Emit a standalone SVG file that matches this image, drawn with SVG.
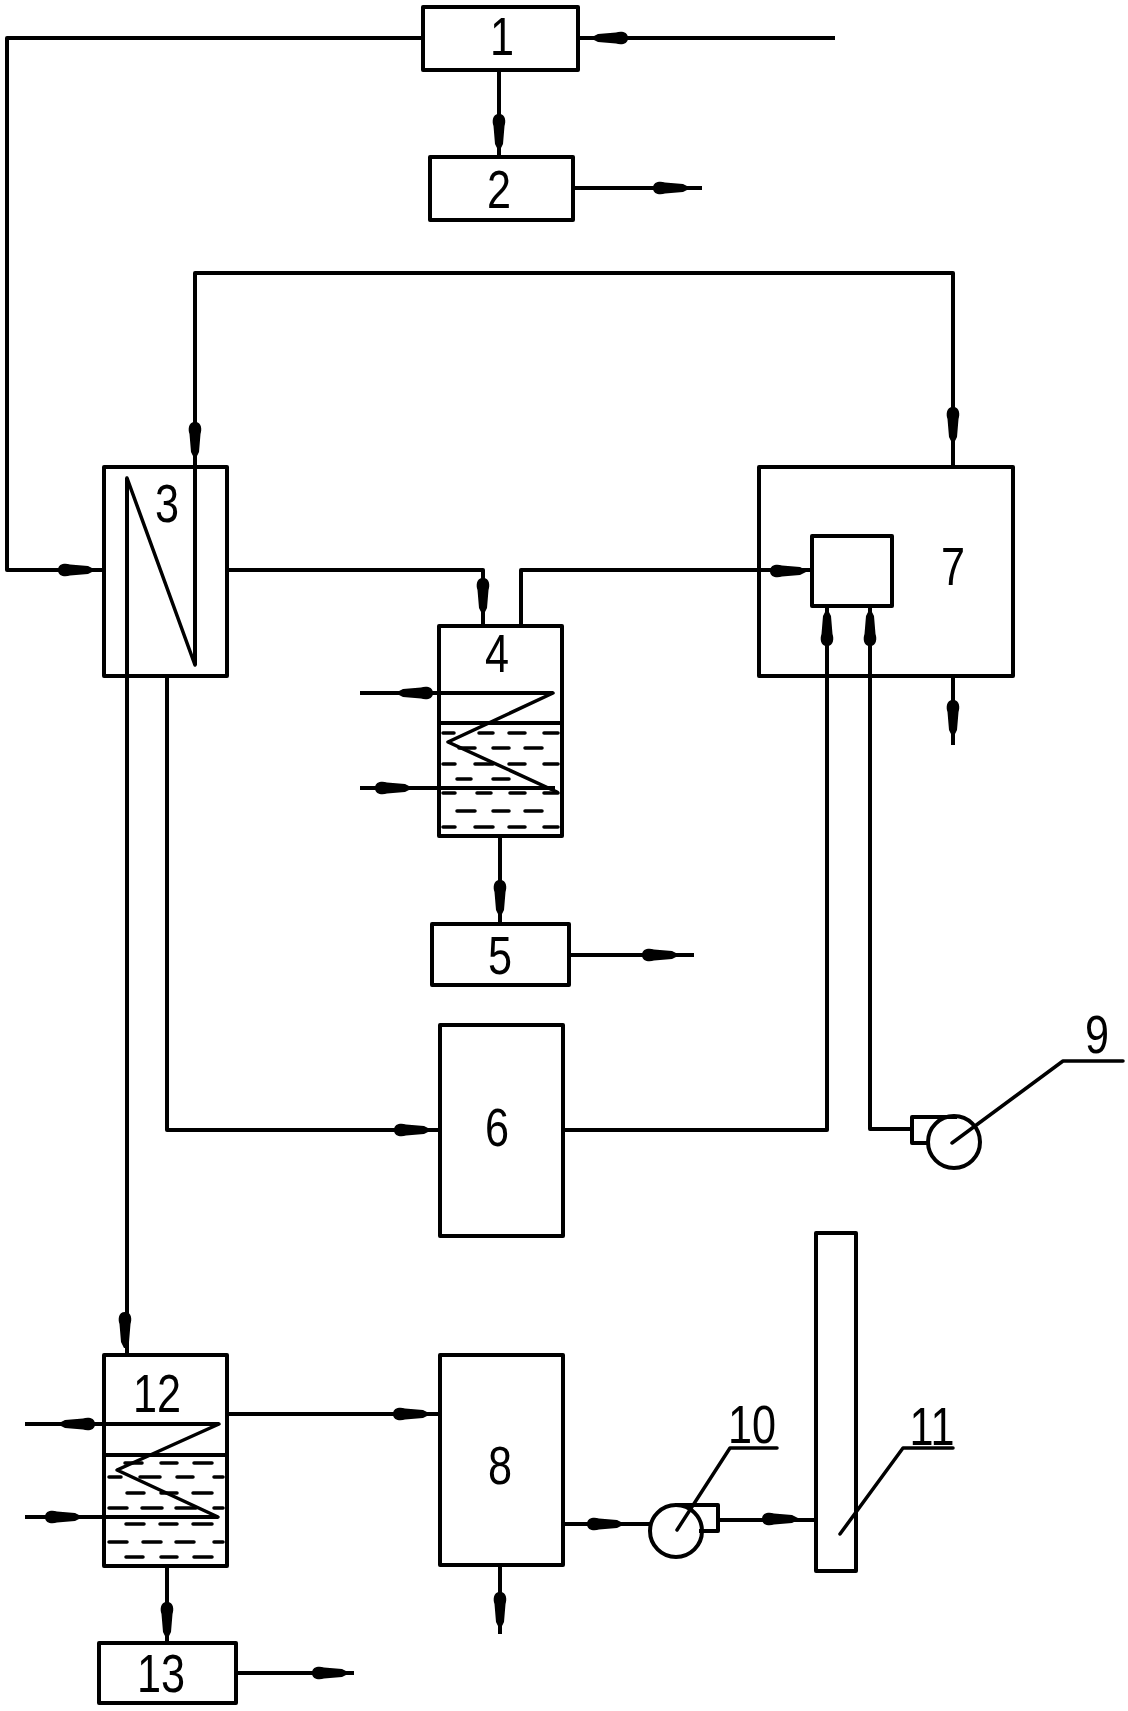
<svg xmlns="http://www.w3.org/2000/svg" width="1128" height="1711" viewBox="0 0 1128 1711">
<style>
.b{fill:none;stroke:#000;stroke-width:4;stroke-linejoin:round}
.c{fill:none;stroke:#000;stroke-width:4;stroke-linejoin:round}
.t{fill:none;stroke:#000;stroke-width:3.5;stroke-linecap:round;stroke-linejoin:round}
.d{fill:none;stroke:#000;stroke-width:3.5;stroke-linecap:round}
.n{font-family:"Liberation Sans",Arial,sans-serif;font-size:54px;fill:#000;text-anchor:middle}
</style>
<defs>
<path id="bl" d="M-18 0C-18 -7 -10 -7 -6 -5.5L12 -4L18 -1V1L12 4L-6 5.5C-10 7 -18 7 -18 0Z"/>
</defs>
<rect width="1128" height="1711" fill="#fff"/>
<g id="connectors">
<path class="c" d="M423 38H7V570H104"/>
<path class="c" d="M578 38H835"/>
<path class="c" d="M499 70V157"/>
<path class="c" d="M573 188H702"/>
<path class="c" d="M195 665V273H953V467"/>
<path class="c" d="M227 570H483V626"/>
<path class="c" d="M521 626V570H812"/>
<path class="c" d="M500 836V924"/>
<path class="c" d="M569 955H694"/>
<path class="c" d="M167 676V1130H440"/>
<path class="c" d="M127 478V1355"/>
<path class="c" d="M563 1130H827V606"/>
<path class="c" stroke-width="5" d="M870 606V1129H912"/>
<path class="c" d="M953 676V745"/>
<path class="c" d="M227 1414H440"/>
<path class="c" d="M167 1566V1643"/>
<path class="c" d="M236 1673H354"/>
<path class="c" d="M500 1565V1634"/>
<path class="c" d="M563 1524H650"/>
<path class="c" d="M718 1520H816"/>
<path class="c" d="M360 693H553"/>
<path class="c" d="M360 788H555"/>
<path class="c" d="M25 1424H219"/>
<path class="c" d="M25 1517H218"/>
<use href="#bl" transform="translate(610 38) rotate(180)"/>
<use href="#bl" transform="translate(499 132) rotate(90)"/>
<use href="#bl" transform="translate(671 188)"/>
<use href="#bl" transform="translate(76 570)"/>
<use href="#bl" transform="translate(195 440) rotate(90)"/>
<use href="#bl" transform="translate(953 425) rotate(90)"/>
<use href="#bl" transform="translate(483 596) rotate(90)"/>
<use href="#bl" transform="translate(788 571)"/>
<use href="#bl" transform="translate(827 628) rotate(-90)"/>
<use href="#bl" transform="translate(870 628) rotate(-90)"/>
<use href="#bl" transform="translate(953 718) rotate(90)"/>
<use href="#bl" transform="translate(415 693) rotate(180)"/>
<use href="#bl" transform="translate(393 788)"/>
<use href="#bl" transform="translate(500 898) rotate(90)"/>
<use href="#bl" transform="translate(660 955)"/>
<use href="#bl" transform="translate(412 1130)"/>
<use href="#bl" transform="translate(125 1330) rotate(90)"/>
<use href="#bl" transform="translate(77 1424) rotate(180)"/>
<use href="#bl" transform="translate(63 1517)"/>
<use href="#bl" transform="translate(411 1414)"/>
<use href="#bl" transform="translate(167 1620) rotate(90)"/>
<use href="#bl" transform="translate(330 1673)"/>
<use href="#bl" transform="translate(500 1610) rotate(90)"/>
<use href="#bl" transform="translate(605 1524)"/>
<use href="#bl" transform="translate(780 1519)"/>
</g>
<g id="node1"><rect class="b" x="423" y="7" width="155" height="63"/><text class="n" transform="translate(502 55) scale(.8 1)">1</text></g>
<g id="node2"><rect class="b" x="430" y="157" width="143" height="63"/><text class="n" transform="translate(499 208) scale(.8 1)">2</text></g>
<g id="node3"><rect class="b" x="104" y="467" width="123" height="209"/><path class="t" d="M127 478L195 665"/><text class="n" transform="translate(167 522) scale(.8 1)">3</text></g>
<g id="node4"><rect class="b" x="439" y="626" width="123" height="210"/><path class="c" d="M439 723H562"/>
<path class="t" d="M553 693L448 742L557 792"/>
<path class="d" d="M443 733H454M479 733H493M509 733H525M544 733H558M459 748H475M493 748H509M525 748H542M443 764H455M475 764H493M509 764H525M544 764H558M457 779H471M493 779H509M457 811H475M493 811H509M525 811H542M443 827H455M475 827H493M509 827H525M544 827H558"/>
<path class="d" stroke-width="6" d="M443 793H455M477 793H491M510 793H525M544 793H558"/>
<text class="n" transform="translate(497 672) scale(.8 1)">4</text></g>
<g id="node5"><rect class="b" x="432" y="924" width="137" height="61"/><text class="n" transform="translate(500 974) scale(.8 1)">5</text></g>
<g id="node6"><rect class="b" x="440" y="1025" width="123" height="211"/><text class="n" transform="translate(497 1146) scale(.8 1)">6</text></g>
<g id="node7"><rect class="b" x="759" y="467" width="254" height="209"/><rect class="b" x="812" y="536" width="80" height="70"/><text class="n" transform="translate(953 585) scale(.8 1)">7</text></g>
<g id="node8"><rect class="b" x="440" y="1355" width="123" height="210"/><text class="n" transform="translate(500 1484) scale(.8 1)">8</text></g>
<g id="node9"><path class="c" d="M957 1117H912V1143H928"/><circle class="c" cx="954" cy="1142" r="26"/><path class="t" d="M952 1143L1063 1061H1123"/><text class="n" transform="translate(1097 1053) scale(.8 1)">9</text></g>
<g id="node10"><path class="c" d="M675 1505H718V1531H699"/><circle class="c" cx="676" cy="1531" r="26"/><path class="t" d="M677 1530L730 1448H777"/><text class="n" transform="translate(752 1443) scale(.8 1)">10</text></g>
<g id="node11"><rect class="b" x="816" y="1233" width="40" height="338"/><path class="t" d="M840 1534L903 1448H953"/><text class="n" transform="translate(932 1445) scale(.8 1)">11</text></g>
<g id="node12"><rect class="b" x="104" y="1355" width="123" height="211"/><path class="c" d="M104 1455H227"/>
<path class="t" d="M219 1424L117 1470L218 1517"/>
<path class="d" d="M125 1463H142M161 1463H177M194 1463H212M109 1477H121M140 1477H160M177 1477H193M214 1477H223M127 1493H144M161 1493H177M193 1493H212M109 1508H127M142 1508H162M176 1508H196M214 1508H223M126 1524H144M160 1524H177M193 1524H212M109 1542H127M143 1542H161M176 1542H194M214 1542H223M126 1557H143M161 1557H177M194 1557H212"/>
<text class="n" transform="translate(157 1412) scale(.8 1)">12</text></g>
<g id="node13"><rect class="b" x="99" y="1643" width="137" height="60"/><text class="n" transform="translate(161 1692) scale(.8 1)">13</text></g>
</svg>
